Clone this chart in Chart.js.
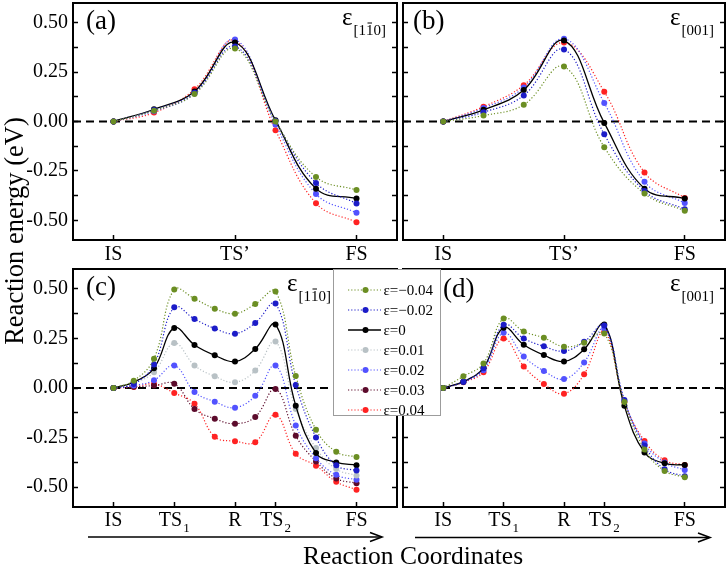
<!DOCTYPE html>
<html lang="en">
<head>
<meta charset="UTF-8" />
<title>Reaction energy profiles under strain</title>
<script src="https://cdn.jsdelivr.net/npm/chart.js@4.4.1/dist/chart.umd.min.js"></script>
<style>
  body{margin:0;background:#fff;}
  #fig{position:relative;width:728px;height:567px;overflow:hidden;background:#fff;
       font-family:"Liberation Serif","Times New Roman",serif;color:#000;}
  #fig canvas{position:absolute;}
  #cA{left:0;top:0}
  #cB{left:400px;top:0}
  #cC{left:0;top:262px}
  #cD{left:400px;top:262px}
  #arrows{position:absolute;left:0;top:0;}
  #legend{position:absolute;left:333px;top:269px;width:108px;height:147px;box-sizing:border-box;
          border:1.5px solid #9c9c9c;background:#fff;}
  #legend .row{position:absolute;left:0;width:100%;height:16px;}
  #legend svg{position:absolute;left:13.5px;top:1px;}
  #legend span{position:absolute;left:49.5px;top:0;font-size:15px;line-height:16px;white-space:nowrap;}
  #ytitle{position:absolute;left:-136px;top:218px;width:300px;text-align:center;
          font-size:26.5px;line-height:26px;transform:rotate(-90deg);}
  #xtitle{position:absolute;left:213px;top:543px;width:400px;text-align:center;
          font-size:25.5px;line-height:26px;}
</style>
</head>
<body>
<div id="fig">
  <canvas id="cA" width="400" height="270"></canvas>
  <canvas id="cB" width="328" height="270"></canvas>
  <canvas id="cC" width="400" height="285"></canvas>
  <canvas id="cD" width="328" height="285"></canvas>
  <svg id="arrows" width="728" height="567">
    <g stroke="#000" stroke-width="1.6" fill="none">
      <line x1="88" y1="537" x2="381" y2="537"/>
      <polyline points="370,532.5 382,537 370,541.5"/>
      <line x1="415" y1="537.5" x2="709" y2="537.5"/>
      <polyline points="698,533 710,537.5 698,542"/>
    </g>
  </svg>
  <div id="ytitle">Reaction energy (eV)</div>
  <div id="xtitle">Reaction Coordinates</div>
  <div id="legend"></div>
</div>

<script>
  // ---- data ----
  const strainLabels = ['ε=−0.04', 'ε=−0.02', 'ε=0', 'ε=0.01', 'ε=0.02', 'ε=0.03', 'ε=0.04'];
  const strainColors = ['#6b8e23', '#1c1cc8', '#000000', '#b8c1c5', '#5252ff', '#5c0b2c', '#ff2222'];

  // short path (a, b): IS .. TS' .. FS, 7 images
  const shortTicks  = [0, 3, 6];
  const shortLabels = ['IS', 'TS’', 'FS'];
  // long path (c, d): IS .. TS1 .. R .. TS2 .. FS, 13 images
  const longTicks  = [0, 3, 6, 8, 12];
  const longLabels = ['IS', 'TS', 'R', 'TS', 'FS'];
  const longSubs   = ['', '1', '', '2', ''];

  const yTickMarks  = [-0.5, -0.375, -0.25, -0.125, 0, 0.125, 0.25, 0.375, 0.5];
  const yTickLabels = [-0.5, -0.25, 0, 0.25, 0.5];

  // (a) strain along [1-10], short path
  const aM04 = [0, 0.055, 0.139, 0.370,  0.000, -0.281, -0.347];
  const aM02 = [0, 0.058, 0.145, 0.380,  0.003, -0.311, -0.415];
  const aZer = [0, 0.062, 0.152, 0.400,  0.006, -0.340, -0.390];
  const aP02 = [0, 0.052, 0.142, 0.415, -0.015, -0.367, -0.462];
  const aP04 = [0, 0.045, 0.163, 0.410, -0.044, -0.414, -0.510];

  // (b) strain along [001], short path
  const bM04 = [0, 0.030, 0.085, 0.278, -0.130, -0.365, -0.452];
  const bM02 = [0, 0.047, 0.132, 0.365, -0.065, -0.352, -0.444];
  const bZer = [0, 0.059, 0.159, 0.410, -0.007, -0.340, -0.390];
  const bP02 = [0, 0.068, 0.172, 0.419,  0.094, -0.305, -0.413];
  const bP04 = [0, 0.075, 0.184, 0.400,  0.151, -0.258, -0.387];

  // (c) strain along [1-10], long path
  const cM04 = [0, 0.037, 0.148, 0.497, 0.450, 0.400, 0.375, 0.423, 0.487, 0.061, -0.210, -0.322, -0.348];
  const cM02 = [0, 0.020, 0.118, 0.407, 0.348, 0.300, 0.274, 0.328, 0.426, 0.015, -0.249, -0.390, -0.416];
  const cZer = [0, 0.030, 0.100, 0.303, 0.217, 0.165, 0.133, 0.197, 0.320, -0.089, -0.328, -0.375, -0.389];
  const cP01 = [0, 0.025, 0.079, 0.227, 0.114, 0.059, 0.029, 0.088, 0.234, -0.106, -0.303, -0.409, -0.441];
  const cP02 = [0, 0.012, 0.039, 0.114, -0.020, -0.069, -0.099, -0.039, 0.114, -0.189, -0.354, -0.438, -0.463];
  const cP03 = [0, 0.006, 0.012, 0.022, -0.106, -0.155, -0.180, -0.146, -0.005, -0.241, -0.370, -0.456, -0.480];
  const cP04 = [0, 0.005, 0.020, -0.025, -0.079, -0.246, -0.268, -0.273, -0.135, -0.332, -0.392, -0.473, -0.513];

  // (d) strain along [001], long path
  const dM04 = [0, 0.059, 0.124, 0.351, 0.285, 0.253, 0.208, 0.228, 0.275, -0.070, -0.310, -0.418, -0.450];
  const dM02 = [0, 0.032, 0.100, 0.319, 0.250, 0.210, 0.186, 0.233, 0.315, -0.060, -0.290, -0.410, -0.445];
  const dZer = [0, 0.032, 0.102, 0.304, 0.218, 0.166, 0.134, 0.195, 0.320, -0.090, -0.325, -0.380, -0.388];
  const dP02 = [0, 0.030, 0.090, 0.279, 0.159, 0.086, 0.045, 0.129, 0.300, -0.065, -0.280, -0.376, -0.413];
  const dP04 = [0, 0.029, 0.080, 0.250, 0.109, 0.020, -0.029, 0.069, 0.282, -0.070, -0.267, -0.364, -0.388];

  const epsSubX = [['[1', false], ['1', true], ['0]', false]];   // [1 1̄ 0]
  const epsSubZ = [['[001]', false]];

  // ---- helpers ----
  const SERIF = "'Liberation Serif', 'Times New Roman', serif";

  function lineSet(k, values){
    const col = strainColors[k], solid = strainLabels[k] === 'ε=0';
    return {
      label: strainLabels[k],
      data: values.map((v, i) => ({x: i, y: v})),
      borderColor: col, backgroundColor: col,
      borderWidth: solid ? 1.3 : 1.2,
      borderDash: solid ? [] : [1.2, 2],
      pointRadius: 3, pointHoverRadius: 3,
      pointBorderWidth: 0, pointBackgroundColor: col,
      tension: 0.4, fill: false
    };
  }

  const tickGrid = {display:true, drawOnChartArea:false, drawTicks:true,
                    tickLength:-5, tickWidth:1.5, tickColor:'#000'};

  function yAxis(pos, showLabels){
    return {
      type:'linear', position:pos, min:-0.6, max:0.6,
      grid: tickGrid, border:{display:false},
      ticks:{display:showLabels, padding:10, color:'#000',
             font:{family:SERIF, size:20},
             callback: v => yTickLabels.includes(v) ? v.toFixed(2) : ''},
      afterBuildTicks: s => { s.ticks = yTickMarks.map(v => ({value:v})); },
      afterFit: s => { s.width = showLabels ? 73 : 0; s.paddingTop = 0; s.paddingBottom = 0; }
    };
  }

  const zeroLine = {
    id:'zeroLine',
    beforeDatasetsDraw(chart){
      const {ctx, chartArea:a, scales:{y}} = chart;
      const py = y.getPixelForValue(0);
      ctx.save();
      ctx.strokeStyle = '#000'; ctx.lineWidth = 2; ctx.setLineDash([8, 5]);
      ctx.beginPath(); ctx.moveTo(a.left, py); ctx.lineTo(a.right, py); ctx.stroke();
      ctx.restore();
    }
  };

  const frame = {
    id:'frame',
    afterDraw(chart, args, o){
      const {ctx, chartArea:a, scales:{x}} = chart;
      ctx.save();
      ctx.strokeStyle = '#000'; ctx.lineWidth = 2;
      ctx.strokeRect(a.left, a.top, a.right - a.left, a.bottom - a.top);

      // x tick labels, with subscripts
      ctx.fillStyle = '#000'; ctx.textBaseline = 'alphabetic'; ctx.textAlign = 'left';
      o.ticks.forEach((v, i) => {
        const main = o.labels[i], sub = o.subs ? o.subs[i] : '';
        ctx.font = '20px ' + SERIF;
        const wm = ctx.measureText(main).width;
        ctx.font = '13px ' + SERIF;
        const ws = sub ? ctx.measureText(sub).width + 1 : 0;
        const x0 = x.getPixelForValue(v) - (wm + ws) / 2;
        const by = a.bottom + o.labelDy;
        ctx.font = '20px ' + SERIF;
        ctx.fillText(main, x0, by);
        if (sub){ ctx.font = '13px ' + SERIF; ctx.fillText(sub, x0 + wm + 1, by + 6); }
      });

      // panel tag
      ctx.font = '27px ' + SERIF;
      ctx.fillText(o.tag, a.left + o.tagDx, a.top + o.tagDy);

      // epsilon with bracket subscript
      ctx.font = '25px ' + SERIF;
      const we = ctx.measureText('ε').width;
      ctx.font = '15px ' + SERIF;
      const ws = o.sub.reduce((s, p) => s + ctx.measureText(p[0]).width, 0);
      let ex = o.epsDx != null ? a.left + o.epsDx : a.right - 11 - ws - we - 1;
      ctx.font = '25px ' + SERIF;
      ctx.fillText('ε', ex, a.top + 22);
      ex += we + 1;
      ctx.font = '15px ' + SERIF;
      const sy = a.top + 32;
      o.sub.forEach(([t, bar]) => {
        const w = ctx.measureText(t).width;
        ctx.fillText(t, ex, sy);
        if (bar){
          ctx.lineWidth = 1; ctx.beginPath();
          ctx.moveTo(ex + 1.5, sy - 12); ctx.lineTo(ex + w - 1.5, sy - 12); ctx.stroke();
        }
        ex += w;
      });
      ctx.restore();
    }
  };

  function makePanel(id, sets, xMin, xMax, ticks, labels, subs, showY, xH, pad, text){
    return new Chart(document.getElementById(id), {
      type:'line',
      data:{datasets: sets.map(([k, vals]) => lineSet(k, vals))},
      options:{
        responsive:false, animation:false, devicePixelRatio:1,
        layout:{padding:pad},
        plugins:{legend:{display:false}, tooltip:{enabled:false},
                 frame: Object.assign({ticks, labels, subs}, text)},
        scales:{
          x:{type:'linear', position:'bottom', min:xMin, max:xMax,
             grid: tickGrid, border:{display:false}, ticks:{display:false},
             afterBuildTicks: s => { s.ticks = ticks.map(v => ({value:v})); },
             afterFit: s => { s.height = xH; }},
          y: yAxis('left', showY),
          y2: yAxis('right', false)
        }
      },
      plugins:[zeroLine, frame]
    });
  }

  makePanel('cA', [[0, aM04], [1, aM02], [2, aZer], [4, aP02], [6, aP04]],
            -1, 7, shortTicks, shortLabels, null, true, 30,
            {top:2, right:2, left:0, bottom:0},
            {tag:'(a)', tagDx:13, tagDy:26, sub:epsSubX, labelDy:20});

  makePanel('cB', [[0, bM04], [1, bM02], [2, bZer], [4, bP02], [6, bP04]],
            -1, 7, shortTicks, shortLabels, null, false, 30,
            {top:2, right:2, left:2, bottom:0},
            {tag:'(b)', tagDx:10, tagDy:26, sub:epsSubZ, labelDy:20});

  const chartC = makePanel('cC',
            [[0, cM04], [1, cM02], [2, cZer], [3, cP01], [4, cP02], [5, cP03], [6, cP04]],
            -2, 14, longTicks, longLabels, longSubs, true, 40,
            {top:7, right:2, left:0, bottom:0},
            {tag:'(c)', tagDx:13, tagDy:26, sub:epsSubX, epsDx:214, labelDy:19});

  makePanel('cD', [[0, dM04], [1, dM02], [2, dZer], [4, dP02], [6, dP04]],
            -2, 14, longTicks, longLabels, longSubs, false, 40,
            {top:7, right:2, left:2, bottom:0},
            {tag:'(d)', tagDx:40, tagDy:28, sub:epsSubZ, labelDy:19});

  // legend built from panel (c)'s datasets
  const legendEl = document.getElementById('legend');
  chartC.data.datasets.forEach((ds, i) => {
    const row = document.createElement('div');
    row.className = 'row';
    row.style.top = (11.5 + i * 20.05) + 'px';
    const dash = ds.borderDash.length ? 'stroke-dasharray="1.2 2"' : '';
    row.innerHTML =
      `<svg width="36" height="14"><line x1="0" y1="7" x2="33" y2="7" stroke="${ds.borderColor}" ` +
      `stroke-width="${ds.borderWidth}" ${dash}/><circle cx="17.5" cy="7" r="3" fill="${ds.borderColor}"/></svg>` +
      `<span>${ds.label}</span>`;
    legendEl.appendChild(row);
  });
</script>
</body>
</html>
